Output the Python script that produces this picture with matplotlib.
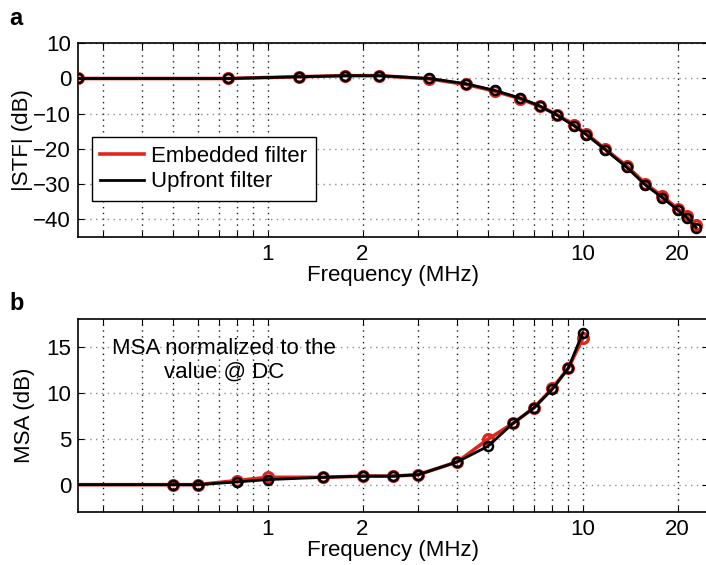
import matplotlib.pyplot as plt
from matplotlib.ticker import FixedLocator, NullFormatter, FixedFormatter

plt.rcParams['font.family'] = ['Liberation Sans', 'DejaVu Sans']
plt.rcParams['font.size'] = 16

# transfer function |STF|
stf_freq = [0.25, 0.75, 1.26, 1.76, 2.26, 3.26, 4.27, 5.26, 6.3, 7.3,
            8.3, 9.37, 10.27, 11.8, 13.8, 15.8, 17.9, 20.0, 21.4, 22.9]
stf_embedded = [0.0, 0.0, 0.5, 0.8, 0.8, -0.1, -1.7, -3.6, -5.7, -7.9,
                -10.3, -13.2, -15.7, -20.1, -24.9, -29.9, -33.5, -37.0, -39.2, -41.7]
stf_upfront = [0.0, 0.0, 0.5, 0.8, 0.8, 0.0, -1.5, -3.4, -5.5, -7.8,
               -10.5, -13.4, -16.0, -20.3, -25.3, -30.3, -33.9, -37.4, -39.6, -42.4]

# MSA normalized to DC
msa_freq = [0.1, 0.5, 0.6, 0.8, 1.0, 1.5, 2.0, 2.5, 3.0, 4.0, 5.0, 6.0, 7.0, 8.0, 9.0, 10.0]
msa_embedded = [0.0, 0.0, 0.0, 0.45, 0.8, 0.8, 0.93, 0.93, 1.08, 2.48, 4.93, 6.65, 8.35, 10.45, 12.66, 15.9]
msa_upfront = [0.0, 0.0, 0.0, 0.3, 0.55, 0.8, 0.93, 0.93, 1.08, 2.48, 4.17, 6.65, 8.35, 10.36, 12.66, 16.5]

x_labels = ['1', '2', '10', '20']
x_label_pos = [1, 2, 10, 20]
x_grid = [0.3, 0.4, 0.5, 0.6, 0.7, 0.8, 0.9, 1, 2, 3, 4, 5, 6, 7, 8, 9, 10, 20]

fig = plt.figure(figsize=(7.06, 5.65), dpi=100)
ax1 = fig.add_axes([0.1105, 0.581, 0.8925, 0.3423])
ax2 = fig.add_axes([0.1105, 0.0933, 0.8925, 0.3421])


def style_axis(ax):
    ax.set_xscale('log')
    ax.set_xlim(0.25, 25)
    ax.xaxis.set_major_locator(FixedLocator(x_label_pos))
    ax.xaxis.set_major_formatter(FixedFormatter(x_labels))
    ax.xaxis.set_minor_locator(FixedLocator([g for g in x_grid if g not in x_label_pos]))
    ax.xaxis.set_minor_formatter(NullFormatter())
    for g in x_grid:
        ax.axvline(g, color='0.1', linestyle=(0, (1, 3.2)), linewidth=1.0, zorder=0)
    ax.grid(axis='y', color='0.55', linestyle=(0, (1, 3.2)), linewidth=1.0, zorder=0)
    ax.tick_params(which='both', direction='in', top=True, right=True,
                   length=4, width=0.8, labelsize=16)
    ax.tick_params(axis='x', pad=5)
    ax.tick_params(axis='y', pad=5)
    for s in ax.spines.values():
        s.set_linewidth(1.2)
    ax.set_xlabel('Frequency (MHz)', fontsize=16, labelpad=0)


style_axis(ax1)
ax1.plot(stf_freq, stf_embedded, color='#e0261b', linewidth=2.6, marker='o',
         markersize=7, markerfacecolor='none', markeredgecolor='#e0261b',
         markeredgewidth=2.4, label='Embedded filter', zorder=3)
ax1.plot(stf_freq, stf_upfront, color='black', linewidth=2.0, marker='o',
         markersize=6.5, markerfacecolor='none', markeredgecolor='black',
         markeredgewidth=1.8, label='Upfront filter', zorder=4)
ax1.set_ylim(-45, 10)
ax1.set_yticks([-40, -30, -20, -10, 0, 10])
ax1.set_ylabel('|STF| (dB)', fontsize=16, labelpad=0)
leg = ax1.legend(loc='upper left', bbox_to_anchor=(0.022, 0.515), frameon=True,
                 fancybox=False, edgecolor='black', framealpha=1, fontsize=16,
                 handlelength=1.95, handletextpad=0.35, borderpad=0.38,
                 labelspacing=0.22, borderaxespad=0)
leg.get_frame().set_linewidth(1.0)
for h in leg.legend_handles:
    h.set_marker('')

style_axis(ax2)
ax2.plot(msa_freq, msa_embedded, color='#e0261b', linewidth=2.6, marker='o',
         markersize=7, markerfacecolor='none', markeredgecolor='#e0261b',
         markeredgewidth=2.4, zorder=3)
ax2.plot(msa_freq, msa_upfront, color='black', linewidth=2.0, marker='o',
         markersize=6.5, markerfacecolor='none', markeredgecolor='black',
         markeredgewidth=1.8, zorder=4)
ax2.set_ylim(-3, 18)
ax2.set_yticks([0, 5, 10, 15])
ax2.set_ylabel('MSA (dB)', fontsize=16, labelpad=8)
ax2.text(0.232, 0.785, 'MSA normalized to the\nvalue @ DC', transform=ax2.transAxes,
         ha='center', va='center', fontsize=16, linespacing=1.15)

fig.text(0.013, 0.968, 'a', fontsize=17, fontweight='bold', va='center')
fig.text(0.013, 0.463, 'b', fontsize=17, fontweight='bold', va='center')

fig.savefig('out.png', dpi=100)
